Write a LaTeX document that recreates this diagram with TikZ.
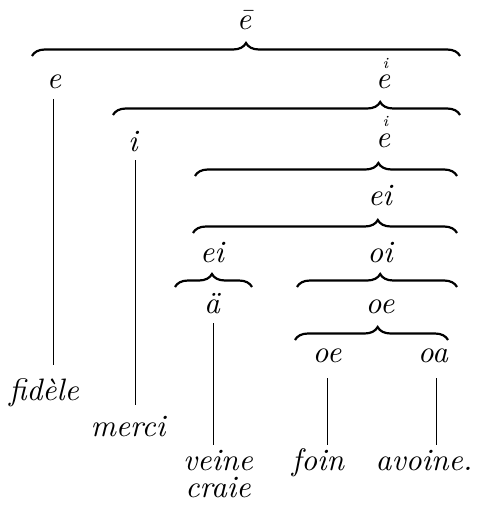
\documentclass[tikz,border=0pt]{standalone}
\usepackage{graphicx}
\usetikzlibrary{decorations.pathreplacing,calc}
% italic label set at the 10pt design size and enlarged
\newcommand\tx[1]{\scalebox{3.1}{\fontsize{10}{12}\selectfont\itshape #1}}
% e with a small i set above it
\newcommand\eitop{\makebox[0pt][l]{\hspace{0.22em}\raisebox{0.66em}{\fontsize{5}{5}\selectfont i}}e}
\begin{document}
\begin{tikzpicture}[x=1pt,y=-1pt,
  lbl/.style={inner sep=0pt, anchor=base},
  brc/.style={decorate, decoration={brace, amplitude=13pt, aspect=#1}, line width=2.2pt},
  stem/.style={line width=0.8pt}]
\useasboundingbox (0,0) rectangle (479,524);

% labels
\node[lbl] (ebar)   at (244,30)  {\tx{\=e}};
\node[lbl] (ee)     at (54,89)   {\tx{e}};
\node[lbl] (eiA)    at (383,89)  {\tx{\eitop}};
\node[lbl] (ii)     at (133,151) {\tx{i}};
\node[lbl] (eiB)    at (383,147) {\tx{\eitop}};
\node[lbl] (eiC)    at (380,205) {\tx{ei}};
\node[lbl] (eiD)    at (212,262) {\tx{ei}};
\node[lbl] (oi)     at (380,262) {\tx{oi}};
\node[lbl] (auml)   at (212,313) {\tx{\"a}};
\node[lbl] (oeA)    at (380,313) {\tx{oe}};
\node[lbl] (oeB)    at (327,362) {\tx{oe}};
\node[lbl] (oa)     at (433,362) {\tx{oa}};
\node[lbl] (fidele) at (44,400)  {\tx{fidèle}};
\node[lbl] (merci)  at (128,436) {\tx{merci}};
\node[lbl] (veine)  at (218,470) {\tx{veine}};
\node[lbl] (craie)  at (218,497) {\tx{craie}};
\node[lbl] (foin)   at (318,470) {\tx{foin}};
\node[lbl] (avoine) at (424,470) {\tx{avoine.}};

% braces
\draw[brc=.5]  (32,56)   -- (460,56);
\draw[brc=.77] (113,115) -- (460,115);
\draw[brc=.70] (195,176) -- (457,176);
\draw[brc=.70] (193,233) -- (457,233);
\draw[brc=.48] (175,287) -- (252,287);
\draw[brc=.52] (297,287) -- (457,287);
\draw[brc=.54] (295,340) -- (448,340);

% descent lines
\draw[stem] ($(ee.base)+(-1,10)$)   -- ($(fidele.base)+(9,-35)$);
\draw[stem] ($(ii.base)+(2,9)$)     -- ($(merci.base)+(7,-31)$);
\draw[stem] ($(auml.base)+(1,10)$)  -- ($(veine.base)+(-5,-25)$);
\draw[stem] ($(oeB.base)+(0,16)$)   -- ($(foin.base)+(9,-25)$);
\draw[stem] ($(oa.base)+(3,16)$)    -- ($(avoine.base)+(12,-25)$);
\end{tikzpicture}
\end{document}
